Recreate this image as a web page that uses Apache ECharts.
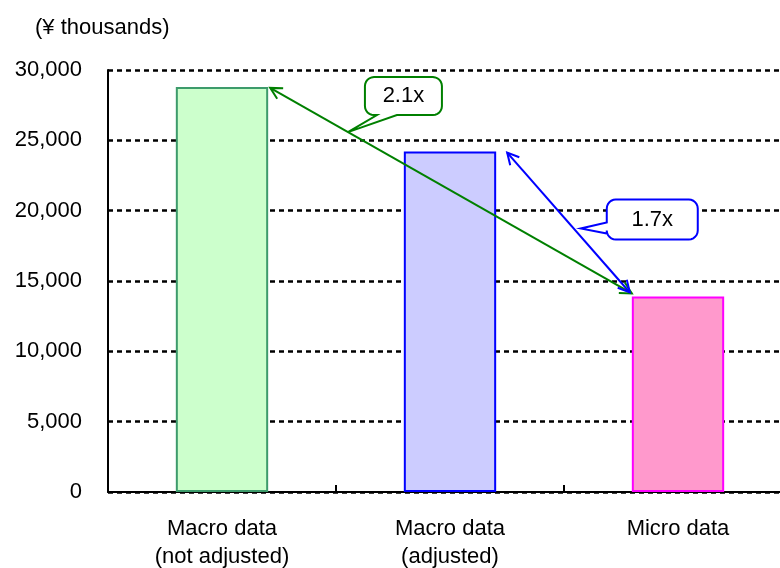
<!DOCTYPE html>
<html>
<head>
<meta charset="utf-8">
<script src="https://cdn.jsdelivr.net/npm/echarts@6/dist/echarts.min.js"></script>
<style>
  html, body { margin: 0; padding: 0; background: #fff; }
  #chart { width: 780px; height: 568px; }
</style>
</head>
<body>
<div id="chart"></div>
<script>
// Average amounts per source, in thousands of yen
const categories = ['Macro data\n(not adjusted)', 'Macro data\n(adjusted)', 'Micro data'];
const values = [28800, 24200, 13900];
const fills = ['#ccffcc', '#ccccff', '#ff99cc'];
const borders = ['#3d9b6b', '#0000ff', '#ff00ff'];
const yTicks = [0, 5000, 10000, 15000, 20000, 25000, 30000];
const unitLabel = '(¥ thousands)';

const FONT = "'Liberation Sans', Arial, sans-serif";
const BAR_RATIO = 0.405;

const chart = echarts.init(document.getElementById('chart'), null, { renderer: 'canvas' });

chart.setOption({
  animation: false,
  backgroundColor: '#fff',
  title: {
    text: unitLabel,
    left: 30, top: 12,
    textStyle: { fontFamily: FONT, fontSize: 22, fontWeight: 'normal', color: '#000' }
  },
  // plot area runs a little past the right edge of the canvas
  grid: { left: 108, top: 70, width: 684, height: 422, containLabel: false, outerBoundsMode: 'none' },
  xAxis: {
    type: 'category',
    data: categories,
    axisLine: { lineStyle: { color: '#000', width: 2 } },
    axisTick: { show: true, inside: true, length: 7, lineStyle: { color: '#000', width: 2 } },
    axisLabel: { fontFamily: FONT, fontSize: 22, color: '#000', lineHeight: 28, margin: 23 }
  },
  yAxis: {
    type: 'value',
    min: yTicks[0],
    max: yTicks[yTicks.length - 1],
    interval: yTicks[1] - yTicks[0],
    axisLine: { show: true, lineStyle: { color: '#000', width: 2 } },
    axisTick: { show: false },
    splitLine: { show: true, lineStyle: { color: '#000', width: 2.5, type: [5, 4] } },
    axisLabel: {
      fontFamily: FONT, fontSize: 22, color: '#000', margin: 26,
      formatter: v => v.toLocaleString('en-US')
    }
  },
  series: [{
    type: 'bar',
    barWidth: (BAR_RATIO * 100) + '%',
    data: values.map((v, i) => ({
      value: v,
      itemStyle: { color: fills[i], borderColor: borders[i], borderWidth: 2 }
    })),
    z: 3
  }]
});

// Pixel helpers built on the chart's own scales
function px(i, v) { return chart.convertToPixel({ seriesIndex: 0 }, [i, v]); }
const catW = px(1, 0)[0] - px(0, 0)[0];
const halfBar = catW * BAR_RATIO / 2;
function corner(i, side) { const p = px(i, values[i]); return [p[0] + side * halfBar, p[1]]; }

function arrowHead(tip, from, color) {
  const ang = Math.atan2(from[1] - tip[1], from[0] - tip[0]);
  const len = 13, spread = Math.PI / 6.5;
  const a = [tip[0] + len * Math.cos(ang + spread), tip[1] + len * Math.sin(ang + spread)];
  const b = [tip[0] + len * Math.cos(ang - spread), tip[1] + len * Math.sin(ang - spread)];
  return { type: 'polyline', shape: { points: [a, tip, b] }, style: { stroke: color, lineWidth: 2, fill: null }, z: 20 };
}
function doubleArrow(p1, p2, color) {
  return [
    { type: 'line', shape: { x1: p1[0], y1: p1[1], x2: p2[0], y2: p2[1] }, style: { stroke: color, lineWidth: 2 }, z: 20 },
    arrowHead(p1, p2, color),
    arrowHead(p2, p1, color)
  ];
}
function lerp(a, b, t) { return [a[0] + (b[0] - a[0]) * t, a[1] + (b[1] - a[1]) * t]; }

// Quarter-circle points for a rounded corner
function arcPts(cx, cy, r, a0, a1) {
  const pts = [];
  for (let k = 0; k <= 6; k++) {
    const a = a0 + (a1 - a0) * k / 6;
    pts.push([cx + r * Math.cos(a), cy + r * Math.sin(a)]);
  }
  return pts;
}
// Rounded callout box with a pointer leaving from its bottom or left edge
function calloutPoints(x, y, w, h, r, tip, side, b1, b2) {
  const P = Math.PI;
  let pts = [];
  pts = pts.concat(arcPts(x + w - r, y + r, r, -P / 2, 0));          // top-right
  pts = pts.concat(arcPts(x + w - r, y + h - r, r, 0, P / 2));       // bottom-right
  if (side === 'bottom') pts.push([x + b2, y + h], tip, [x + b1, y + h]);
  pts = pts.concat(arcPts(x + r, y + h - r, r, P / 2, P));           // bottom-left
  if (side === 'left') pts.push([x, y + b2], tip, [x, y + b1]);
  pts = pts.concat(arcPts(x + r, y + r, r, P, 1.5 * P));             // top-left
  return pts;
}
function callout(box, tip, side, b1, b2, color, text) {
  return [
    { type: 'polygon', shape: { points: calloutPoints(box[0], box[1], box[2], box[3], 9, tip, side, b1, b2) },
      style: { fill: '#fff', stroke: color, lineWidth: 2 }, z: 30 },
    { type: 'text', x: box[0] + box[2] / 2, y: box[1] + box[3] / 2,
      style: { text: text, fontFamily: FONT, fontSize: 22, fill: '#000', align: 'center', verticalAlign: 'middle' }, z: 31 }
  ];
}

// Comparison arrows from each macro bar to the micro bar
const gA = corner(0, 1), gB = corner(2, -1);
const greenStart = [gA[0] + 2, gA[1] + 1], greenEnd = [gB[0], gB[1] - 3];
const bA = corner(1, 1), bB = corner(2, -1);
const blueStart = [bA[0] + 11, bA[1] + 1], blueEnd = [bB[0] - 2, bB[1] - 4];

const ratioG = (values[0] / values[2]).toFixed(1) + 'x';
const ratioB = (values[1] / values[2]).toFixed(1) + 'x';

const gTip = lerp(greenStart, greenEnd, 0.215);
const bTip = lerp(blueStart, blueEnd, 0.6);
bTip[1] -= 8;

const graphics = []
  .concat(doubleArrow(greenStart, greenEnd, '#008000'))
  .concat(doubleArrow(blueStart, blueEnd, '#0000ff'))
  .concat(callout([gTip[0] + 17, gTip[1] - 55, 77, 38], gTip, 'bottom', 12, 32, '#008000', ratioG))
  .concat(callout([bTip[0] + 26, bTip[1] - 29, 91, 40], bTip, 'left', 23, 34, '#0000ff', ratioB));

chart.setOption({ graphic: graphics });
</script>
</body>
</html>
